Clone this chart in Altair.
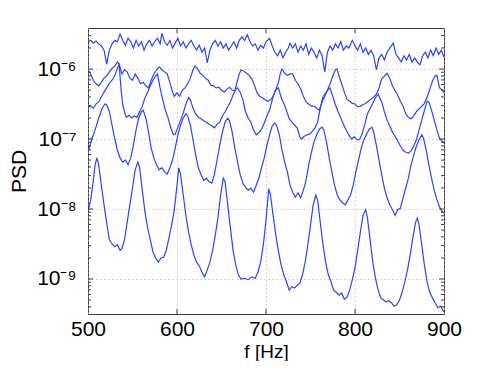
import altair as alt
import pandas as pd

# Values as (f [Hz], log10 PSD) pairs, one list per curve.
series_A = [(500,-5.61),(503,-5.59),(506,-5.63),(509,-5.60),(512,-5.64),(515,-5.67),(518,-5.73),(521,-5.93),(524,-5.73),(527,-5.64),
(530,-5.59),(533,-5.61),(536,-5.50),(539,-5.59),(542,-5.66),(545,-5.56),(548,-5.61),(551,-5.70),(554,-5.59),(557,-5.67),
(560,-5.61),(563,-5.73),(566,-5.64),(569,-5.59),(572,-5.67),(575,-5.61),(578,-5.56),(581,-5.64),(583,-5.49),(586,-5.61),
(589,-5.66),(592,-5.59),(595,-5.70),(598,-5.63),(601,-5.56),(604,-5.67),(607,-5.61),(610,-5.70),(613,-5.64),(616,-5.59),
(619,-5.67),(622,-5.73),(625,-5.66),(628,-5.76),(631,-5.70),(634,-5.91),(637,-5.73),(640,-5.64),(643,-5.59),(646,-5.67),
(649,-5.61),(652,-5.70),(655,-5.64),(658,-5.73),(661,-5.67),(664,-5.61),(667,-5.70),(670,-5.59),(673,-5.54),(676,-5.59),
(679,-5.51),(682,-5.61),(685,-5.67),(688,-5.64),(691,-5.73),(694,-5.66),(697,-5.70),(700,-5.61),(704,-5.56),(707,-5.67),
(710,-5.76),(713,-5.81),(716,-5.73),(719,-5.84),(722,-5.76),(725,-5.70),(727,-5.63),(730,-5.70),(733,-5.64),(736,-5.76),
(739,-5.67),(742,-5.73),(745,-5.64),(748,-5.79),(751,-5.70),(754,-5.76),(757,-5.84),(760,-5.73),(763,-5.81),(766,-6.04),
(769,-5.76),(772,-5.67),(775,-5.73),(778,-5.64),(781,-5.70),(784,-5.61),(787,-5.73),(790,-5.67),(793,-5.70),(797,-5.59),
(800,-5.67),(803,-5.73),(806,-5.64),(809,-5.76),(812,-5.70),(815,-5.79),(818,-5.73),(821,-5.81),(824,-6.01),(827,-5.84),
(830,-5.79),(833,-5.87),(836,-5.76),(839,-5.70),(843,-5.63),(846,-5.79),(849,-5.84),(852,-5.90),(855,-5.81),(858,-5.87),
(861,-5.79),(864,-5.90),(867,-5.84),(870,-5.90),(873,-5.94),(876,-5.81),(879,-5.76),(882,-5.84),(885,-5.73),(888,-5.81),
(891,-5.70),(894,-5.79),(897,-5.73),(900,-5.83)]

series_B = [(500,-6.01),(503,-6.07),(506,-6.16),(509,-6.21),(512,-6.24),(515,-6.19),(518,-6.13),(521,-6.10),(524,-6.04),(527,-5.99),
(530,-5.96),(533,-5.90),(535,-5.93),(538,-6.07),(541,-6.01),(544,-6.04),(547,-6.13),(550,-6.16),(553,-6.07),(556,-6.13),
(559,-6.21),(562,-6.19),(565,-6.24),(568,-6.27),(571,-6.16),(574,-6.07),(577,-6.01),(580,-5.97),(583,-6.01),(586,-6.04),
(589,-6.07),(592,-6.19),(595,-6.33),(597,-6.39),(600,-6.34),(603,-6.39),(606,-6.30),(609,-6.27),(612,-6.21),(615,-6.13),
(618,-6.01),(620,-5.96),(623,-5.99),(626,-6.06),(629,-6.09),(632,-6.13),(635,-6.16),(638,-6.23),(641,-6.24),(644,-6.27),
(647,-6.26),(650,-6.30),(653,-6.33),(656,-6.29),(659,-6.26),(662,-6.30),(665,-6.31),(668,-6.16),(670,-6.07),(672,-6.01),
(675,-6.03),(678,-6.06),(681,-6.09),(684,-6.14),(687,-6.23),(690,-6.34),(693,-6.39),(696,-6.41),(699,-6.44),(702,-6.46),
(705,-6.44),(708,-6.39),(711,-6.30),(714,-6.19),(716,-6.07),(718,-6.00),(721,-6.06),(724,-6.09),(727,-6.07),(730,-6.07),
(733,-6.16),(736,-6.21),(739,-6.29),(742,-6.39),(745,-6.47),(748,-6.50),(751,-6.53),(754,-6.53),(757,-6.56),(760,-6.59),
(763,-6.47),(766,-6.39),(769,-6.30),(772,-6.21),(775,-6.10),(778,-6.01),(780,-6.00),(782,-6.10),(785,-6.21),(788,-6.33),
(791,-6.43),(794,-6.46),(797,-6.49),(800,-6.50),(803,-6.54),(806,-6.53),(809,-6.51),(812,-6.49),(815,-6.46),(818,-6.43),
(821,-6.40),(824,-6.36),(827,-6.27),(830,-6.14),(833,-6.10),(836,-6.06),(839,-6.13),(842,-6.24),(845,-6.31),(848,-6.37),
(851,-6.46),(854,-6.53),(857,-6.64),(860,-6.69),(863,-6.71),(866,-6.67),(869,-6.61),(872,-6.57),(875,-6.53),(878,-6.49),
(881,-6.40),(884,-6.29),(887,-6.17),(890,-6.10),(892,-6.09),(895,-6.27),(898,-6.30),(900,-6.34)]

series_C = [(500,-6.54),(503,-6.53),(506,-6.56),(509,-6.50),(512,-6.47),(515,-6.40),(518,-6.33),(521,-6.27),(524,-6.20),(527,-6.16),
(530,-6.10),(533,-5.99),(535,-5.94),(537,-6.27),(539,-6.51),(541,-6.61),(543,-6.69),(546,-6.66),(549,-6.70),(552,-6.67),
(555,-6.69),(558,-6.61),(561,-6.53),(564,-6.41),(567,-6.33),(570,-6.24),(573,-6.16),(576,-6.10),(578,-6.07),(581,-6.27),
(584,-6.44),(587,-6.59),(590,-6.70),(593,-6.84),(596,-6.94),(598,-6.93),(601,-6.83),(604,-6.73),(607,-6.63),(610,-6.50),
(613,-6.41),(615,-6.44),(618,-6.56),(621,-6.64),(624,-6.69),(627,-6.71),(630,-6.74),(633,-6.76),(636,-6.79),(639,-6.81),
(642,-6.84),(645,-6.79),(648,-6.76),(651,-6.67),(654,-6.61),(657,-6.54),(660,-6.47),(663,-6.37),(666,-6.29),(668,-6.27),
(671,-6.33),(674,-6.44),(677,-6.61),(680,-6.70),(683,-6.76),(686,-6.87),(689,-6.94),(692,-6.91),(695,-6.86),(698,-6.77),
(701,-6.67),(704,-6.59),(707,-6.44),(710,-6.31),(712,-6.29),(714,-6.27),(716,-6.36),(718,-6.44),(720,-6.49),(723,-6.59),
(726,-6.71),(729,-6.76),(732,-6.80),(735,-6.84),(738,-6.97),(740,-7.00),(743,-6.96),(746,-6.94),(749,-6.93),(752,-6.89),
(755,-6.84),(758,-6.76),(761,-6.56),(764,-6.40),(767,-6.34),(770,-6.29),(772,-6.27),(775,-6.39),(778,-6.51),(781,-6.61),
(784,-6.70),(787,-6.79),(790,-6.87),(793,-6.94),(796,-7.00),(799,-6.97),(802,-7.01),(805,-7.01),(808,-6.93),(811,-6.79),
(814,-6.64),(817,-6.56),(820,-6.49),(823,-6.41),(826,-6.36),(830,-6.47),(833,-6.61),(836,-6.73),(839,-6.81),(842,-6.90),
(845,-6.96),(848,-7.03),(851,-7.10),(854,-7.16),(857,-7.19),(860,-7.20),(863,-7.17),(866,-7.10),(869,-7.01),(872,-6.87),
(875,-6.73),(878,-6.59),(881,-6.46),(883,-6.47),(886,-6.59),(889,-6.73),(892,-6.87),(895,-6.99),(898,-7.03),(900,-7.06)]

series_E = [(500,-7.20),(504,-7.01),(508,-6.87),(512,-6.70),(516,-6.56),(519,-6.50),(521,-6.51),(524,-6.61),(527,-6.80),(530,-6.99),
(533,-7.16),(536,-7.27),(539,-7.33),(542,-7.30),(545,-7.37),(548,-7.27),(551,-7.09),(554,-6.87),(557,-6.70),(560,-6.61),
(562,-6.59),(565,-6.70),(568,-6.90),(571,-7.13),(574,-7.27),(577,-7.37),(580,-7.44),(583,-7.41),(586,-7.47),(589,-7.50),
(592,-7.41),(595,-7.30),(598,-7.13),(601,-6.94),(604,-6.80),(607,-6.70),(610,-6.64),(612,-6.67),(615,-6.80),(618,-7.01),
(621,-7.23),(624,-7.41),(627,-7.51),(630,-7.59),(633,-7.56),(636,-7.61),(639,-7.63),(642,-7.51),(645,-7.30),(648,-7.09),
(651,-6.90),(654,-6.76),(657,-6.70),(659,-6.74),(662,-6.90),(665,-7.13),(668,-7.33),(671,-7.51),(674,-7.63),(677,-7.69),
(680,-7.73),(683,-7.70),(686,-7.76),(689,-7.66),(692,-7.56),(695,-7.41),(698,-7.27),(701,-7.09),(704,-6.94),(707,-6.81),
(710,-6.77),(712,-6.81),(715,-6.94),(718,-7.16),(721,-7.33),(724,-7.47),(727,-7.66),(730,-7.76),(733,-7.83),(736,-7.77),
(739,-7.84),(742,-7.73),(745,-7.59),(748,-7.37),(751,-7.19),(754,-7.04),(757,-6.94),(760,-6.86),(763,-6.83),(765,-6.87),
(768,-7.04),(771,-7.27),(774,-7.47),(777,-7.66),(780,-7.80),(783,-7.87),(786,-7.91),(789,-7.94),(792,-7.87),(795,-7.80),
(798,-7.66),(801,-7.47),(804,-7.30),(807,-7.13),(810,-7.01),(813,-6.93),(816,-6.86),(819,-6.83),(821,-6.90),(824,-7.09),
(827,-7.30),(830,-7.51),(833,-7.70),(836,-7.84),(839,-7.94),(842,-8.01),(845,-8.09),(848,-8.01),(851,-7.99),(854,-7.84),
(857,-7.70),(860,-7.56),(863,-7.37),(866,-7.23),(869,-7.10),(872,-7.01),(875,-6.94),(877,-6.99),(880,-7.16),(883,-7.37),
(886,-7.56),(889,-7.73),(892,-7.87),(895,-7.97),(898,-8.04),(900,-8.06)]

series_D = [(500,-8.04),(503,-7.87),(506,-7.59),(508,-7.37),(510,-7.27),(512,-7.37),(515,-7.66),(518,-7.94),(521,-8.20),(524,-8.44),
(527,-8.50),(530,-8.54),(533,-8.51),(536,-8.59),(538,-8.57),(541,-8.44),(544,-8.19),(547,-7.94),(550,-7.70),(553,-7.44),
(556,-7.33),(558,-7.41),(561,-7.73),(564,-8.04),(567,-8.27),(570,-8.44),(573,-8.61),(576,-8.70),(579,-8.76),(582,-8.70),
(585,-8.69),(588,-8.59),(591,-8.41),(594,-8.23),(597,-8.01),(600,-7.66),(602,-7.41),(604,-7.51),(607,-7.80),(610,-8.09),
(613,-8.33),(616,-8.51),(619,-8.66),(622,-8.76),(625,-8.81),(628,-8.90),(631,-8.97),(634,-8.87),(637,-8.76),(640,-8.59),
(643,-8.37),(646,-8.13),(649,-7.80),(652,-7.56),(654,-7.61),(657,-7.94),(660,-8.27),(663,-8.59),(666,-8.80),(669,-8.94),
(672,-9.00),(676,-8.99),(680,-9.01),(684,-8.97),(688,-8.99),(691,-8.90),(694,-8.76),(697,-8.51),(700,-8.16),(703,-7.71),
(705,-7.80),(708,-8.09),(711,-8.37),(714,-8.61),(717,-8.80),(720,-8.94),(723,-9.04),(726,-9.16),(729,-9.11),(732,-9.13),
(735,-9.09),(738,-9.06),(741,-8.94),(744,-8.76),(747,-8.51),(750,-8.23),(753,-7.94),(756,-7.80),(758,-7.87),(761,-8.19),
(764,-8.51),(767,-8.76),(770,-8.94),(773,-9.04),(776,-9.16),(779,-9.19),(782,-9.23),(785,-9.20),(788,-9.29),(791,-9.26),
(794,-9.16),(797,-9.01),(800,-8.84),(803,-8.59),(806,-8.33),(809,-8.09),(812,-8.01),(814,-8.13),(817,-8.44),(820,-8.76),
(823,-8.99),(826,-9.16),(829,-9.27),(832,-9.30),(835,-9.33),(838,-9.31),(841,-9.34),(844,-9.39),(847,-9.37),(850,-9.30),
(853,-9.19),(856,-9.04),(859,-8.87),(862,-8.66),(865,-8.41),(868,-8.19),(870,-8.13),(872,-8.23),(875,-8.51),(878,-8.80),
(881,-9.04),(884,-9.19),(887,-9.27),(890,-9.34),(893,-9.41),(896,-9.39),(900,-9.47)]

x_tick_values = [500, 600, 700, 800, 900]
y_major_values = [1e-9, 1e-8, 1e-7, 1e-6]
y_minor_values = [4e-10, 5e-10, 6e-10, 7e-10, 8e-10, 9e-10,
                  2e-9, 3e-9, 4e-9, 5e-9, 6e-9, 7e-9, 8e-9, 9e-9,
                  2e-8, 3e-8, 4e-8, 5e-8, 6e-8, 7e-8, 8e-8, 9e-8,
                  2e-7, 3e-7, 4e-7, 5e-7, 6e-7, 7e-7, 8e-7, 9e-7,
                  2e-6, 3e-6]
x_inner_ticks = [600, 700, 800]

rows = []
for name, pts in [("A", series_A), ("B", series_B), ("C", series_C), ("E", series_E), ("D", series_D)]:
    for f, lg in pts:
        rows.append({"series": name, "f": f, "psd": 10 ** lg})
df = pd.DataFrame(rows)

W, H = 356, 286
FONT = "Liberation Sans"
LINE = "#2e42ff"
FRAME = "#3a3a3a"

xs = alt.Scale(domain=[500, 900], nice=False, zero=False)
ys = alt.Scale(type="log", domain=[3.16e-10, 3.86e-6], nice=False)

lab = "round(log(datum.value)/LN10)"
y_label_expr = (f"{lab} == -6 ? '10⁻⁶' : {lab} == -7 ? '10⁻⁷' : "
                f"{lab} == -8 ? '10⁻⁸' : '10⁻⁹'")

x_axis = alt.Axis(values=x_tick_values, format="d", grid=True, gridDash=[1, 3],
                  gridColor="#b0b0b0", ticks=False, tickSize=0, domain=False,
                  labelFont=FONT, labelFontSize=21, labelColor="black",
                  labelFlush=False, labelOverlap=False,
                  labelBaseline="alphabetic", labelPadding=21,
                  title="f [Hz]", titleFont=FONT, titleFontSize=19,
                  titleFontWeight="normal", titleColor="black",
                  titleX=178, titleY=43, titleAlign="center",
                  titleBaseline="alphabetic")
y_axis = alt.Axis(values=y_major_values, labelExpr=y_label_expr, grid=True,
                  gridDash=[1, 3], gridColor="#b0b0b0", ticks=False, tickSize=0,
                  domain=False, labelFont=FONT, labelFontSize=21,
                  labelColor="black", labelPadding=12, labelFlush=False,
                  labelOverlap=False,
                  title="PSD", titleFont=FONT, titleFontSize=21,
                  titleFontWeight="normal", titleColor="black",
                  titleX=-63, titleY=143, titleAlign="center",
                  titleBaseline="alphabetic", titleAngle=270)

X = alt.X("f:Q", scale=xs, axis=x_axis, title="f [Hz]")
Y = alt.Y("psd:Q", scale=ys, axis=y_axis, title="PSD")

lines = alt.Chart(df).mark_line(color=LINE, strokeWidth=1.2, clip=True).encode(
    x=X, y=Y, detail="series:N",
)

df_major = pd.DataFrame({"psd": y_major_values})
df_minor = pd.DataFrame({"psd": y_minor_values})
df_xt = pd.DataFrame({"f": x_inner_ticks})

def ytick(data, x0, x1):
    return alt.Chart(data).mark_rule(color=FRAME, strokeWidth=1).encode(
        y=Y, x=alt.value(x0), x2=alt.value(x1))

def xtick(y0, y1):
    return alt.Chart(df_xt).mark_rule(color=FRAME, strokeWidth=1).encode(
        x=X, y=alt.value(y0), y2=alt.value(y1))

chart = alt.layer(
    lines,
    ytick(df_major, 0, 5), ytick(df_minor, 0, 3),
    ytick(df_major, W - 5, W), ytick(df_minor, W - 3, W),
    xtick(H, H - 5), xtick(0, 5),
).properties(
    width=W, height=H,
    padding={"left": 80, "top": 20, "right": 39, "bottom": 47},
    autosize=alt.AutoSizeParams(type="none"),
    background="white",
).configure_view(stroke=FRAME, strokeWidth=1)

chart.save("out.html", embed_options={"renderer": "svg", "actions": False})
